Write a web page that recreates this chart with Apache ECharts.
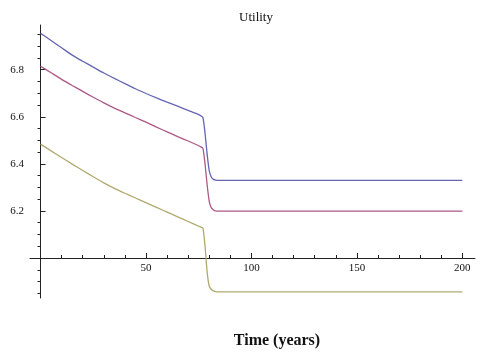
<!DOCTYPE html>
<html>
<head>
<meta charset="utf-8">
<script src="https://cdn.jsdelivr.net/npm/echarts@6/dist/echarts.min.js"></script>
<style>html,body{margin:0;padding:0;background:#fff}#c{width:480px;height:352px}</style>
</head>
<body>
<div id="c"></div>
<script>
var years = [0,5,10,15,20,25,30,35,40,45,50,55,60,65,70,75,76,77,78,79,80,81,82,83,85,90,100,110,120,130,140,150,160,170,180,190,200];
var seriesBlue = [6.955,6.924,6.893,6.862,6.836,6.811,6.786,6.763,6.741,6.719,6.699,6.680,6.662,6.645,6.627,6.609,6.604,6.597,6.53,6.44,6.37,6.343,6.334,6.331,6.330,6.330,6.330,6.330,6.330,6.330,6.330,6.330,6.330,6.330,6.330,6.330,6.330];
var seriesRed = [6.815,6.787,6.759,6.733,6.708,6.683,6.659,6.637,6.617,6.597,6.577,6.556,6.536,6.516,6.497,6.477,6.472,6.466,6.40,6.31,6.24,6.213,6.204,6.200,6.199,6.199,6.199,6.199,6.199,6.199,6.199,6.199,6.199,6.199,6.199,6.199,6.199];
var seriesYellow = [6.484,6.455,6.427,6.399,6.372,6.345,6.319,6.296,6.275,6.255,6.235,6.215,6.195,6.175,6.155,6.135,6.131,6.127,6.05,5.94,5.88,5.866,5.860,5.857,5.856,5.856,5.856,5.856,5.856,5.856,5.856,5.856,5.856,5.856,5.856,5.856,5.856];
var xMajorTicks = [50,100,150,200];
var xMinorTicks = [10,20,30,40,60,70,80,90,110,120,130,140,160,170,180,190];
var yMajorTicks = [6.2,6.4,6.6,6.8];
var yMinorTicks = [5.85,5.9,5.95,6.05,6.1,6.15,6.25,6.3,6.35,6.45,6.5,6.55,6.65,6.7,6.75,6.85,6.9,6.95];
var titleText = 'Utility';
var xName = 'Time (years)';

var X_MIN = -5, X_MAX = 206, Y_MIN = 5.83, Y_MAX = 6.99, Y_CROSS = 6.0;
var G_LEFT = 30, G_TOP = 25, G_W = 445, G_H = 273;
var xOffset = -(Y_CROSS - Y_MIN) / (Y_MAX - Y_MIN) * G_H;

function pairs(vals){ return years.map(function(t,i){ return [t, vals[i]]; }); }
var axisColor = '#222';
var font = 'Liberation Serif';

function lineSeries(vals, color){
  return {type: 'line', data: pairs(vals), showSymbol: false, symbol: 'none',
    smooth: 0.2,
    lineStyle: {color: color, width: 1.3}, itemStyle: {color: color}};
}

var chart = echarts.init(document.getElementById('c'), null, {renderer:'canvas'});
chart.setOption({
  animation: false,
  backgroundColor: '#fff',
  title: [
    {text: titleText, left: 251, top: 6, textAlign: 'center',
     textStyle: {fontFamily: font, fontSize: 13, fontWeight: 'normal', color: '#111'}},
    {text: xName, left: 272, top: 328, textAlign: 'center',
     textStyle: {fontFamily: font, fontSize: 16, fontWeight: 'bold', color: '#111'}}
  ],
  grid: {left: G_LEFT, top: G_TOP, width: G_W, height: G_H, containLabel: false, outerBoundsMode: 'none'},
  xAxis: [
    {type: 'value', min: X_MIN, max: X_MAX, position: 'bottom', offset: xOffset,
     axisLine: {show: true, onZero: false, lineStyle: {color: axisColor, width: 1}},
     axisTick: {show: true, inside: true, length: 5, customValues: xMajorTicks, lineStyle: {color: axisColor}},
     axisLabel: {show: true, customValues: xMajorTicks, margin: 5, fontFamily: font, fontSize: 11, color: '#111'},
     splitLine: {show: false}},
    {type: 'value', min: X_MIN, max: X_MAX, position: 'bottom', offset: xOffset,
     axisLine: {show: false, onZero: false},
     axisTick: {show: true, inside: true, length: 3, customValues: xMinorTicks, lineStyle: {color: axisColor}},
     axisLabel: {show: false},
     splitLine: {show: false}}
  ],
  yAxis: [
    {type: 'value', min: Y_MIN, max: Y_MAX,
     axisLine: {show: true, onZero: true, onZeroAxisIndex: 0, lineStyle: {color: axisColor, width: 1}},
     axisTick: {show: true, inside: true, length: 5, customValues: yMajorTicks, lineStyle: {color: axisColor}},
     axisLabel: {show: true, customValues: yMajorTicks, margin: 6, fontFamily: font, fontSize: 11, color: '#111',
       formatter: function(v){ return v.toFixed(1); }},
     splitLine: {show: false}},
    {type: 'value', min: Y_MIN, max: Y_MAX,
     axisLine: {show: false, onZero: true, onZeroAxisIndex: 0},
     axisTick: {show: true, inside: true, length: 3, customValues: yMinorTicks, lineStyle: {color: axisColor}},
     axisLabel: {show: false},
     splitLine: {show: false}}
  ],
  series: [
    lineSeries(seriesBlue, '#6565b2'),
    lineSeries(seriesRed, '#ad5886'),
    lineSeries(seriesYellow, '#b0a970')
  ]
});
</script>
</body>
</html>
